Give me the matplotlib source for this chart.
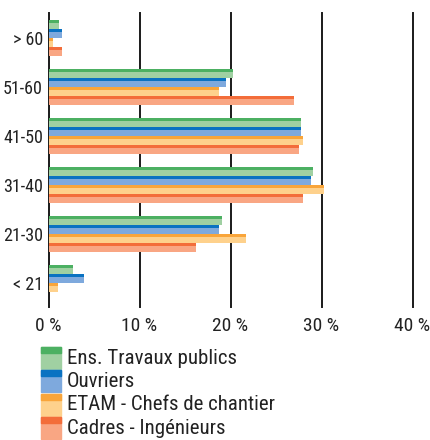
import matplotlib.pyplot as plt
import numpy as np
from matplotlib.patches import Rectangle

plt.rcParams['font.family'] = ['Roboto Condensed', 'Liberation Sans Narrow', 'Liberation Sans', 'DejaVu Sans']

age_groups = ['> 60', '51-60', '41-50', '31-40', '21-30', '< 21']
series = ['Ens. Travaux publics', 'Ouvriers', 'ETAM - Chefs de chantier', 'Cadres - Ingénieurs']
ens_tp = [1.2, 20.3, 27.7, 29.1, 19.1, 2.7]
ouvriers = [1.45, 19.5, 27.7, 28.9, 18.7, 3.9]
etam = [0.45, 18.7, 28.0, 30.3, 21.7, 1.0]
cadres = [1.45, 27.0, 27.5, 28.0, 16.2, 0.0]
xticks = [0, 10, 20, 30, 40]

dark_colors = ['#4cb062', '#0a72c2', '#f9a53a', '#f36d3a']
light_colors = ['#a0d0a2', '#7ea9dd', '#fed18c', '#f9a683']

values = [ens_tp, ouvriers, etam, cadres]

fig = plt.figure(figsize=(4.3, 4.4), dpi=100)
ax = fig.add_axes([48.5 / 430, (440 - 307) / 440, 364 / 430, 294 / 440])

y = np.arange(len(age_groups))
h = 9 / 49
for i, vals in enumerate(values):
    off = (i - 1.5) * h
    # light body plus darker strip along the top edge
    ax.barh(y + off, vals, height=h, color=light_colors[i], zorder=3)
    ax.barh(y + off - h / 3, vals, height=h / 3, color=dark_colors[i], zorder=4)

for xt in xticks:
    ax.axvline(xt, color='#1a1a1a', lw=1.4, zorder=1, clip_on=False)

ax.set_xlim(0, 40)
ax.set_ylim(5.49, -0.51)
ax.set_yticks(y)
ax.set_yticklabels(age_groups, fontsize=13, color='#222222')
ax.set_xticks(xticks)
ax.set_xticklabels([f'{t} %' for t in xticks], fontsize=14, color='#222222')
ax.tick_params(axis='y', length=0, pad=4)
ax.tick_params(axis='x', length=0, pad=7)
for s in ax.spines.values():
    s.set_visible(False)

# legend drawn in pixel space below the chart
lax = fig.add_axes([0, 0, 1, 1])
lax.set_xlim(0, 430)
lax.set_ylim(440, 0)
lax.axis('off')
lax.patch.set_alpha(0)
for i, name in enumerate(series):
    top = 347 + 23.5 * i
    lax.add_patch(Rectangle((41, top), 20, 22, color=light_colors[i]))
    lax.add_patch(Rectangle((41, top), 20, 6, color=dark_colors[i]))
    lax.text(67, top + 11, name, fontsize=15, va='center', ha='left', color='#222222')

fig.savefig('out.png', dpi=100)
